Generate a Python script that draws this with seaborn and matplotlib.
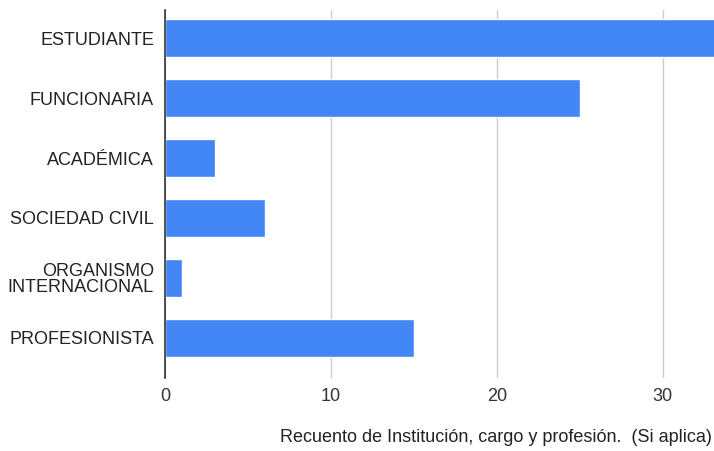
import matplotlib
matplotlib.use("Agg")
import matplotlib.pyplot as plt
import seaborn as sns
import pandas as pd

categorias = ["ESTUDIANTE", "FUNCIONARIA", "ACADÉMICA", "SOCIEDAD CIVIL",
              "ORGANISMO\nINTERNACIONAL", "PROFESIONISTA"]
recuento = [38, 25, 3, 6, 1, 15]
ticks_x = [0, 10, 20, 30]
titulo_x = "Recuento de Institución, cargo y profesión.  (Si aplica)"

df = pd.DataFrame({"categoria": categorias, "recuento": recuento})

sns.set_style("white")
plt.rcParams["font.family"] = ["Liberation Sans", "DejaVu Sans"]

fig = plt.figure(figsize=(7.14, 4.51), dpi=100)
ax = fig.add_axes([165 / 714, 1 - 378 / 451, 1 - 165 / 714, 368 / 451])

sns.barplot(data=df, x="recuento", y="categoria", color="#4285F4",
            saturation=1, width=0.63, ax=ax, zorder=3)

ax.set_xlim(0, 33.1)
ax.set_ylim(5.667, -0.467)
ax.set_xticks(ticks_x)
ax.set_xticklabels([str(t) for t in ticks_x], fontsize=13, color="#333333")
ax.tick_params(axis="y", labelsize=13, labelcolor="#222222", length=0, pad=8)
ax.tick_params(axis="x", length=0, pad=7)
for lbl in ax.get_yticklabels():
    lbl.set_linespacing(0.9)
    lbl.set_multialignment("right")
ax.grid(axis="x", color="#cccccc", linewidth=1, zorder=0)
ax.grid(axis="y", visible=False)
for s in ["top", "right", "bottom"]:
    ax.spines[s].set_visible(False)
ax.spines["left"].set_color("#333333")
ax.spines["left"].set_linewidth(1.2)
ax.spines["left"].set_zorder(5)
ax.set_ylabel("")
ax.set_xlabel("")
fig.text(712 / 714, 1 - 438 / 451, titulo_x, ha="right", va="center",
         fontsize=13, color="#222222")

fig.savefig("out.png", dpi=100)
